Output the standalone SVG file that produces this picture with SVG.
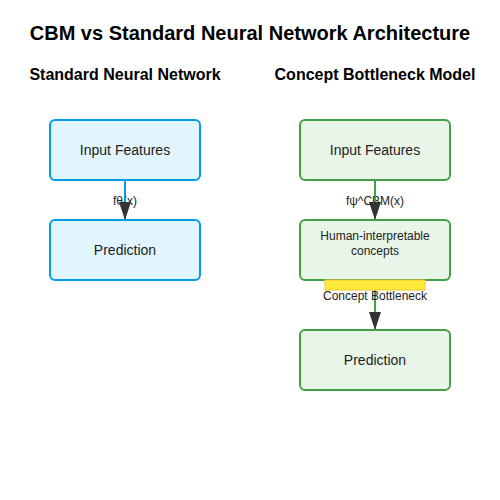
<svg xmlns="http://www.w3.org/2000/svg" width="500" height="500" viewBox="0 0 500 500">
<style>
text{font-family:"Liberation Sans",Arial,sans-serif;fill:#000;text-anchor:middle}
.title{font-size:20px;font-weight:bold}
.sub{font-size:16px;font-weight:bold}
.lbl{font-size:14px;fill:#222}
.small{font-size:12px;fill:#222}
.edge{font-size:12px;fill:#222}
.blue{fill:#e1f5fe;stroke:#039be5;stroke-width:2}
.green{fill:#e8f5e9;stroke:#43a047;stroke-width:2}
</style>
<defs>
<marker id="arr" markerWidth="18" markerHeight="12" refX="18" refY="6" orient="auto" markerUnits="userSpaceOnUse" viewBox="0 0 18 12">
<path d="M0,0 L18,6 L0,12 Z" fill="#333"/>
</marker>
</defs>
<rect width="500" height="500" fill="#fff"/>
<text class="title" x="250" y="40">CBM vs Standard Neural Network Architecture</text>
<text class="sub" x="125" y="80">Standard Neural Network</text>
<text class="sub" x="375" y="80">Concept Bottleneck Model</text>
<g id="connectors">
<text class="edge" x="125" y="205">fθ(x)</text>
<text class="edge" x="375" y="205">fψ^CBM(x)</text>
<line x1="125" y1="180" x2="125" y2="220" stroke="#039be5" stroke-width="2" marker-end="url(#arr)"/>
<line x1="375" y1="180" x2="375" y2="220" stroke="#43a047" stroke-width="2" marker-end="url(#arr)"/>
<line x1="375" y1="290" x2="375" y2="330" stroke="#43a047" stroke-width="2" marker-end="url(#arr)"/>
</g>
<g id="std-input">
<rect class="blue" x="50" y="120" width="150" height="60" rx="5"/>
<text class="lbl" x="125" y="155">Input Features</text>
</g>
<g id="std-pred">
<rect class="blue" x="50" y="220" width="150" height="60" rx="5"/>
<text class="lbl" x="125" y="255">Prediction</text>
</g>
<g id="cbm-input">
<rect class="green" x="300" y="120" width="150" height="60" rx="5"/>
<text class="lbl" x="375" y="155">Input Features</text>
</g>
<g id="cbm-concepts">
<rect class="green" x="300" y="220" width="150" height="60" rx="5"/>
<text class="small" x="375" y="240">Human-interpretable</text>
<text class="small" x="375" y="255">concepts</text>
</g>
<g id="bottleneck">
<rect x="325" y="280" width="100" height="10" fill="#ffeb3b" stroke="#fbc02d" stroke-width="1"/>
<text class="edge" x="375" y="300">Concept Bottleneck</text>
</g>
<g id="cbm-pred">
<rect class="green" x="300" y="330" width="150" height="60" rx="5"/>
<text class="lbl" x="375" y="365">Prediction</text>
</g>
</svg>
